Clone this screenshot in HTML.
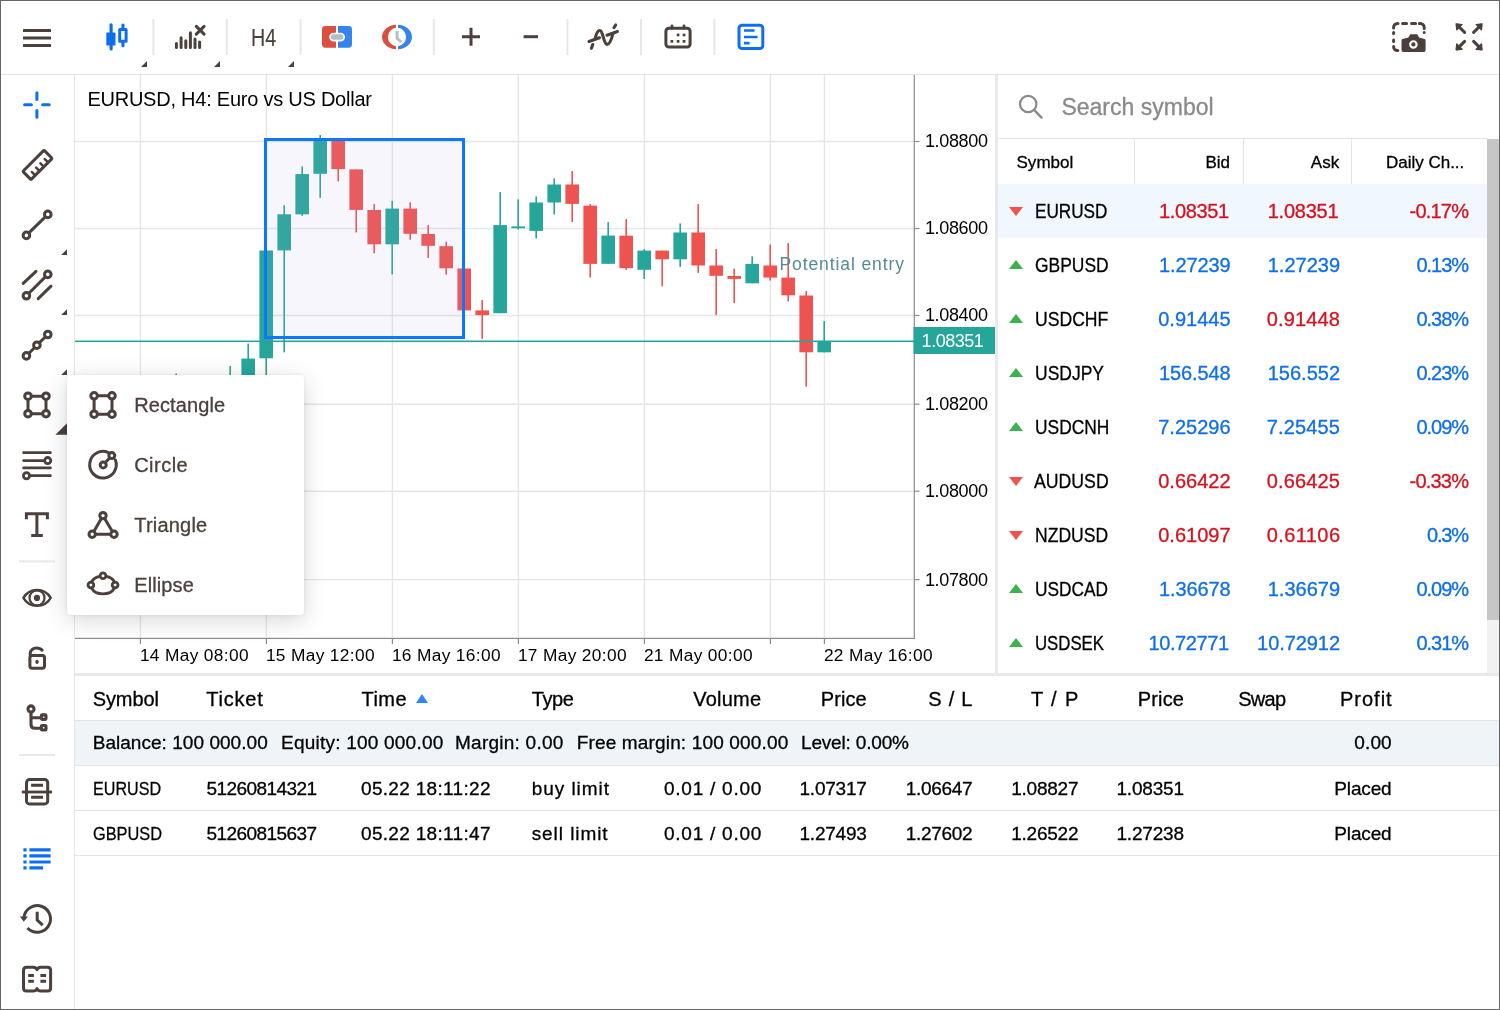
<!DOCTYPE html>
<html lang="en">
<head>
<meta charset="utf-8">
<title>EURUSD, H4 - Web Terminal</title>
<style>
*{box-sizing:border-box;margin:0;padding:0}
html,body{width:1500px;height:1010px;overflow:hidden;background:#fff}
body{position:relative;font-family:"Liberation Sans",sans-serif;color:#000;font-size:19px}
.abs{position:absolute}
.t{position:absolute;white-space:nowrap;line-height:1;-webkit-text-stroke:.3px}
#frame{position:absolute;left:0;top:0;width:1500px;height:1010px;border:1px solid #666;z-index:50;pointer-events:none}
#toolbar{position:absolute;left:0;top:0;width:1500px;height:75px;border-bottom:1px solid #e4e4e4;background:#fff}
#sidebar{position:absolute;left:0;top:75px;width:75px;height:935px;border-right:1px solid #e4e4e4;background:#fff}
svg{position:absolute;overflow:visible}
.ic{fill:none;stroke:#4b403c;stroke-width:3;stroke-linecap:round;stroke-linejoin:round}
.icb{fill:none;stroke:#0d6ef2;stroke-width:3;stroke-linecap:round;stroke-linejoin:round}
#vsplit{position:absolute;left:995px;top:75px;width:3px;height:601px;background:#e9e9e9}
#hsplit{position:absolute;left:75px;top:673px;width:1425px;height:3px;background:#e9e9e9}
#popup{position:absolute;left:67px;top:375px;width:237px;height:240px;background:#fff;border-radius:4px;box-shadow:0 5px 22px rgba(0,0,0,.17),0 0 4px rgba(0,0,0,.06);z-index:20}
#popup .t{color:#4b403c}
/* market watch */
#mw{position:absolute;left:998px;top:75px;width:502px;height:598px;background:#fff;overflow:hidden}
#mw .hd{position:absolute;top:63px;left:0;width:489px;height:46px;border-top:1px solid #e4e4e4;font-size:17px}
#mw .hd i{position:absolute;top:0;width:1px;height:46px;background:#e4e4e4}
.row{position:absolute;left:0;width:489px;height:54px;font-size:20px}
.row.sel{background:#f0f7fe}
.up,.dn{position:absolute;left:11px;width:0;height:0;border-style:solid}
.up{top:22px;border-width:0 7px 9px 7px;border-color:transparent transparent #3bb24e transparent}
.dn{top:23px;border-width:9px 7px 0 7px;border-color:#ef5350 transparent transparent transparent}
#sbar{position:absolute;left:489px;top:64px;width:13px;height:534px;background:#f1f1f1}
#sbar b{position:absolute;left:0;top:0;width:13px;height:481px;background:#c6c6c6}
/* bottom table */
#bt{position:absolute;left:75px;top:676px;width:1425px;height:334px;background:#fff}
#bt .ln{position:absolute;left:0;width:1425px;height:1px;background:#e4e4e4}
#bt .bal{position:absolute;left:0;top:45px;width:1425px;height:44px;background:#eff4f9}
</style>
</head>
<body>
<div id="toolbar">
<div class="t" id="tf" style="left:250.500px;top:27.400px;font-size:23.300px;color:#4b403c;transform-origin:0 0;transform:scaleX(.845);-webkit-text-stroke:.1px">H4</div>
<svg style="left:0;top:0" width="1500" height="75" viewBox="0 0 1500 75">
<rect x="152.4" y="19" width="2" height="36" fill="#e7e7e7"/><rect x="225.8" y="19" width="2" height="36" fill="#e7e7e7"/><rect x="299.6" y="19" width="2" height="36" fill="#e7e7e7"/><rect x="432.8" y="19" width="2" height="36" fill="#e7e7e7"/><rect x="566.4" y="19" width="2" height="36" fill="#e7e7e7"/><rect x="640.0" y="19" width="2" height="36" fill="#e7e7e7"/><rect x="713.4" y="19" width="2" height="36" fill="#e7e7e7"/>
<!-- menu -->
<g fill="#4b403c"><rect x="23" y="29" width="28" height="3" rx=".5"/><rect x="23" y="36.5" width="28" height="3" rx=".5"/><rect x="23" y="44" width="28" height="3" rx=".5"/></g>
<!-- corner marks -->
<g fill="#4b403c"><path d="M147 61v6h-6z"/><path d="M220 61v6h-6z"/><path d="M294 61v6h-6z"/></g>
<!-- candles (active) -->
<g fill="#0d6ef2"><rect x="109.500" y="23.300" width="3.200" height="27.100" rx="1.500"/><rect x="106.300" y="32.400" width="9.200" height="13.200" rx=".700"/>
<rect x="121.400" y="23.500" width="3.100" height="5.500" rx="1.500"/><rect x="121.400" y="41.500" width="3.100" height="5.700" rx="1.500"/></g>
<rect x="119.700" y="29.400" width="6.400" height="11.800" fill="none" stroke="#0d6ef2" stroke-width="3" stroke-linejoin="round"/>
<!-- indicators off -->
<g stroke="#4b403c" stroke-width="3" stroke-linecap="round" fill="none">
<path d="M176.400 43.500V47.400M181.100 37.700V47.400M185.800 40.800V47.400M190.400 32.700V47.400M195 38.900V47.400M199.600 42V47.400"/>
<path d="M196.3 26.4L204.1 34.1M204.1 26.4L196.3 34.1" stroke-width="3"/></g>
<!-- one click trading -->
<path d="M325.4 26.1H336V47.7H325.4a3.4 3.4 0 0 1-3.4-3.4V29.5a3.4 3.4 0 0 1 3.4-3.4z" fill="#d9503f"/>
<path d="M338 26.1H348.6a3.4 3.4 0 0 1 3.4 3.4V44.3a3.4 3.4 0 0 1-3.4 3.4H338z" fill="#3584ec"/>
<rect x="330" y="33.5" width="14.2" height="7.2" rx="3.6" fill="#b0bec5" stroke="#fff" stroke-width="1.7"/>
<!-- clock -->
<clipPath id="cl"><rect x="380" y="20" width="16.1" height="34"/></clipPath><clipPath id="cr"><rect x="398" y="20" width="16" height="34"/></clipPath>
<path clip-path="url(#cl)" fill-rule="evenodd" d="M382 37a15 12.2 0 1 0 30 0a15 12.2 0 1 0 -30 0zM387.900 37a9.100 9.200 0 1 0 18.200 0a9.100 9.200 0 1 0 -18.200 0z" fill="#d9503f"/>
<path clip-path="url(#cr)" fill-rule="evenodd" d="M382 37a15 12.2 0 1 0 30 0a15 12.2 0 1 0 -30 0zM387.900 37a9.100 9.200 0 1 0 18.200 0a9.100 9.200 0 1 0 -18.200 0z" fill="#3584ec"/>
<path d="M397.100 31.100V38.300L401.200 42" fill="none" stroke="#b0bec5" stroke-width="2.900"/>
<!-- zoom -->
<g stroke="#4b403c" stroke-width="3" fill="none"><path d="M462 36.8H480M471 27.8V45.8"/><path d="M523.6 36.7H538"/></g>
<!-- indicator -->
<g class="ic" style="stroke-width:3.1">
<path d="M589 41.500L599.500 37.800M607 35.200L617.400 31.500"/>
<path d="M595.200 38.300C596.400 33.200 598 30.300 599.900 30.500C603.200 30.900 603.400 43.900 607 44.400C609.400 44.700 611.400 39.600 612.900 33.900"/>
<path d="M591.400 48.300L592.800 44.500M614 27.600L615.700 25"/>
</g>
<!-- calendar -->
<g class="ic"><rect x="665.9" y="28.3" width="24.2" height="18.8" rx="3"/><path d="M672 25.8V28M684 25.8V28" stroke-width="2.8"/></g>
<g fill="#4b403c"><rect x="676.7" y="33.6" width="2.7" height="2.7"/><rect x="682.7" y="33.6" width="2.7" height="2.7"/><rect x="670.5" y="40" width="2.7" height="2.7"/><rect x="676.7" y="40" width="2.7" height="2.7"/><rect x="682.7" y="40" width="2.7" height="2.7"/></g>
<!-- toolbox (active) -->
<g class="icb"><rect x="739" y="25.2" width="23.8" height="23.4" rx="3"/><path d="M744 30.5H754.6M744 37H757.6M744 43.2H749.6" style="stroke-width:2.7;stroke-linecap:butt"/></g>
<!-- screenshot -->
<g class="ic"><path d="M1393.6 28V27.4a4 4 0 0 1 4-4H1398M1402.6 23.4H1406.6M1411.6 23.4H1415.6M1419.4 23.4H1420.2a4 4 0 0 1 4 4V28.4M1424.2 32.4V32.6M1393.6 32.4V33.6M1393.6 40V41.6M1393.6 46.4V46.6a4 4 0 0 0 4 4H1397.8"/></g>
<path d="M1410.4 34.2h6.8l1.9 3.4 4.6 1.2a1.9 1.9 0 0 1 1.9 1.9V50a1.9 1.9 0 0 1-1.9 1.9H1403.4a1.9 1.9 0 0 1-1.9-1.9V40.7a1.9 1.9 0 0 1 1.9-1.9l4.9-1.2z" fill="#4b403c"/>
<circle cx="1413.4" cy="44.4" r="3.2" fill="#4b403c" stroke="#fff" stroke-width="2.1"/>
<!-- fullscreen -->
<g class="ic" stroke-width="2.8"><path d="M1464.6 32.4L1457.4 25.2M1473.6 32.4L1480.8 25.2M1464.6 41.4L1457.4 48.6M1473.6 41.4L1480.8 48.6"/></g>
<g fill="#4b403c" stroke="#4b403c" stroke-width="1.4" stroke-linejoin="round"><path d="M1456.2 24L1462 24.6L1456.8 29.8z"/><path d="M1482 24L1476.2 24.6L1481.4 29.8z"/><path d="M1456.2 49.8L1462 49.2L1456.8 44z"/><path d="M1482 49.8L1476.2 49.2L1481.4 44z"/></g>
</svg>

</div>
<div id="sidebar">
<svg style="left:0;top:0" width="75" height="935" viewBox="0 75 75 935">
<rect x="19" y="560.4" width="36" height="2" fill="#e8e8e8"/><rect x="19" y="753.9" width="36" height="2" fill="#e8e8e8"/>
<!-- crosshair (active) -->
<path class="icb" d="M24.6 104.8H31.4M42.6 104.8H49.2M36.9 92.8V99.4M36.9 110.6V117.2"/>
<!-- ruler -->
<g class="ic" transform="rotate(-45 37.500 164.900)"><rect x="22.500" y="159.100" width="30" height="11.600" rx="1"/><path d="M28.500 170.200V165.900M34.600 170.200V165.900M40.700 170.200V165.900M46.800 170.200V165.900" style="stroke-width:2.500"/></g>
<!-- trend line -->
<g class="ic"><circle cx="26.4" cy="235.4" r="3.3"/><circle cx="47.8" cy="214.4" r="3.3"/><path d="M29.4 232.4L44.8 217.4"/></g>
<!-- channel -->
<g class="ic"><circle cx="26.4" cy="295.8" r="3.3"/><circle cx="47.8" cy="274.4" r="3.3"/><path d="M29.4 292.8L44.8 277.4M23.2 283.4L36 271.4M38.2 298.6L51 286.2"/></g>
<!-- polyline -->
<g class="ic"><circle cx="26.4" cy="355.9" r="3.3"/><circle cx="36.9" cy="345.2" r="3.3"/><circle cx="47.8" cy="334.5" r="3.3"/><path d="M29.2 353L34.2 348M39.7 342.4L45 337.2"/></g>
<!-- shapes (open) -->
<g class="ic"><circle cx="28" cy="396.2" r="3.3"/><circle cx="46" cy="396.2" r="3.3"/><circle cx="28" cy="413.7" r="3.3"/><circle cx="46" cy="413.7" r="3.3"/><path d="M31.6 396.2H42.4M31.6 413.7H42.4M28 399.8V410.1M46 399.8V410.1"/></g>
<!-- fibonacci -->
<g class="ic" style="stroke-width:2.8"><path d="M23.6 452.7H50.4M23.6 460.6H43.6M23.6 467.9H50.4M30.8 475.7H50.4"/><circle cx="47.7" cy="460.6" r="3.1"/><circle cx="26.5" cy="475.7" r="3.1"/></g>
<!-- text -->
<path class="ic" style="stroke-linecap:butt;stroke-linejoin:miter" d="M26.400 519.200V513.800H47.400V519.200M36.900 513.800V535.400M31.200 535.600H42.800"/>
<!-- eye -->
<g class="ic" style="stroke-width:2.400"><path d="M23.400 597.900A15.700 15.700 0 0 1 50.700 597.900A15.700 15.700 0 0 1 23.400 597.900z"/><circle cx="37" cy="597.900" r="7.500" style="stroke-width:2.200"/></g>
<circle cx="37" cy="597.900" r="3.100" fill="#4b403c"/>
<!-- lock -->
<g class="ic"><rect x="29.9" y="655.6" width="14.6" height="12.6" rx="2.2"/><path d="M30.2 655V653.4C30.2 650.6 33 647.9 36.4 647.9C38.8 647.9 40.8 648.6 42.2 650.2"/></g>
<rect x="35.400" y="659.700" width="3.200" height="4.200" rx="1.600" fill="#4b403c"/>
<!-- objects tree -->
<g class="ic" style="stroke-width:3.100"><circle cx="31" cy="708.900" r="3.050"/><path d="M31 712.400V724.400Q31 728.300 34.900 728.300H40M31 717.700H40"/><rect x="41.400" y="714.900" width="4.600" height="4.500" rx=".800"/><rect x="41.400" y="725.500" width="4.600" height="4.500" rx=".800"/></g>
<!-- depth of market -->
<g class="ic"><rect x="26.500" y="779.600" width="21.200" height="24.300" rx="3"/><path d="M21.800 792H52" style="stroke-linecap:butt;stroke-width:2.800"/><path d="M31.100 785.300H43M31.100 797.300H43" style="stroke-width:3;stroke-linecap:butt"/></g>
<!-- trade (active) -->
<g stroke="#0d6ef2" stroke-width="3.100" fill="none"><path d="M23.400 849.900H26.600M29.400 849.900H50.600M23.400 855.900H26.600M29.400 855.900H50.600M23.400 862H26.600M29.400 862H50.600M23.400 867.900H26.600M29.400 867.900H43"/></g>
<!-- history -->
<g class="ic"><path d="M24.03 917.05A13.3 13.3 0 1 1 27.47 927.97" style="stroke-linecap:butt"/><path d="M37.200 911.800V920L42.700 925.100" style="stroke-linecap:butt;stroke-linejoin:miter"/></g>
<path d="M19.900 916.600H27.900L23.800 921.700z" fill="#4b403c"/>
<!-- journal -->
<g class="ic"><path d="M26.500 967.200H33.600Q35.800 967.200 37 969.600Q38.200 967.200 40.400 967.200H47.600Q50.600 967.200 50.600 970.200V988Q50.600 991 47.600 991H40.400Q38.200 991 37 988.600Q35.800 991 33.600 991H26.500Q23.500 991 23.500 988V970.200Q23.500 967.200 26.500 967.200z"/><path d="M28.200 975.400H33.900M40.400 975.400H46.100M28.200 981.300H33.900M40.400 981.300H46.100" style="stroke-width:3;stroke-linecap:butt"/></g>
<!-- corner marks -->
<g fill="#4b403c"><path d="M67 249.2v5.8h-5.8z"/><path d="M67 309.2v5.8h-5.8z"/><path d="M67 369.2v5.8h-5.8z"/><path d="M67 423.2v11.6h-11.6z"/></g>
</svg>

</div>

<!-- chart -->
<svg id="chart" class="abs" style="left:0;top:0" width="1500" height="1010" viewBox="0 0 1500 1010" font-family="'Liberation Sans',sans-serif" style="-webkit-text-stroke:.3px">
<defs><clipPath id="cc"><rect x="75" y="75" width="839" height="563"/></clipPath></defs>
<g stroke="#e6e6e6" stroke-width="1.4">
<line x1="140.4" y1="75" x2="140.4" y2="638"/>
<line x1="266.4" y1="75" x2="266.4" y2="638"/>
<line x1="392.4" y1="75" x2="392.4" y2="638"/>
<line x1="518.4" y1="75" x2="518.4" y2="638"/>
<line x1="644.4" y1="75" x2="644.4" y2="638"/>
<line x1="770.4" y1="75" x2="770.4" y2="638"/>
<line x1="824.4" y1="75" x2="824.4" y2="638"/>
<line x1="75" y1="141.5" x2="914" y2="141.5"/>
<line x1="75" y1="228.5" x2="914" y2="228.5"/>
<line x1="75" y1="315.5" x2="914" y2="315.5"/>
<line x1="75" y1="404.2" x2="914" y2="404.2"/>
<line x1="75" y1="491.2" x2="914" y2="491.2"/>
<line x1="75" y1="579.6" x2="914" y2="579.6"/>
</g>
<g clip-path="url(#cc)">
<rect x="175.40" y="373.5" width="1.6" height="26.5" fill="#26a69a"/>
<rect x="169.40" y="380.0" width="13.6" height="15.0" fill="#26a69a"/>
<rect x="229.40" y="366.0" width="1.6" height="34.0" fill="#26a69a"/>
<rect x="223.40" y="378.0" width="13.6" height="17.0" fill="#26a69a"/>
<rect x="247.40" y="343.6" width="1.6" height="51.4" fill="#26a69a"/>
<rect x="241.40" y="358.6" width="13.6" height="31.4" fill="#26a69a"/>
<rect x="265.40" y="250.5" width="1.6" height="149.5" fill="#26a69a"/>
<rect x="259.40" y="250.5" width="13.6" height="107.8" fill="#26a69a"/>
<rect x="283.40" y="205.2" width="1.6" height="147.1" fill="#26a69a"/>
<rect x="277.40" y="214.3" width="13.6" height="36.1" fill="#26a69a"/>
<rect x="301.40" y="166.4" width="1.6" height="49.5" fill="#26a69a"/>
<rect x="295.40" y="174.1" width="13.6" height="40.2" fill="#26a69a"/>
<rect x="319.40" y="135.0" width="1.6" height="62.9" fill="#26a69a"/>
<rect x="313.40" y="140.0" width="13.6" height="33.8" fill="#26a69a"/>
<rect x="337.40" y="141.0" width="1.6" height="40.4" fill="#ef5350"/>
<rect x="331.40" y="141.0" width="13.6" height="28.1" fill="#ef5350"/>
<rect x="355.40" y="169.4" width="1.6" height="63.0" fill="#ef5350"/>
<rect x="349.40" y="169.4" width="13.6" height="40.5" fill="#ef5350"/>
<rect x="373.40" y="204.1" width="1.6" height="49.2" fill="#ef5350"/>
<rect x="367.40" y="210.0" width="13.6" height="34.3" fill="#ef5350"/>
<rect x="391.40" y="200.9" width="1.6" height="73.5" fill="#26a69a"/>
<rect x="385.40" y="208.6" width="13.6" height="35.7" fill="#26a69a"/>
<rect x="409.40" y="202.3" width="1.6" height="37.4" fill="#ef5350"/>
<rect x="403.40" y="208.6" width="13.6" height="25.2" fill="#ef5350"/>
<rect x="427.40" y="225.1" width="1.6" height="32.9" fill="#ef5350"/>
<rect x="421.40" y="234.0" width="13.6" height="11.8" fill="#ef5350"/>
<rect x="445.40" y="241.6" width="1.6" height="33.0" fill="#ef5350"/>
<rect x="439.40" y="246.2" width="13.6" height="22.1" fill="#ef5350"/>
<rect x="457.40" y="268.5" width="13.6" height="41.9" fill="#ef5350"/>
<rect x="481.40" y="300.1" width="1.6" height="38.8" fill="#ef5350"/>
<rect x="475.40" y="310.4" width="13.6" height="4.7" fill="#ef5350"/>
<rect x="499.40" y="192.1" width="1.6" height="121.1" fill="#26a69a"/>
<rect x="493.40" y="225.1" width="13.6" height="88.1" fill="#26a69a"/>
<rect x="517.40" y="199.4" width="1.6" height="30.1" fill="#26a69a"/>
<rect x="511.40" y="226.4" width="13.6" height="1.8" fill="#26a69a"/>
<rect x="535.40" y="196.4" width="1.6" height="42.2" fill="#26a69a"/>
<rect x="529.40" y="202.5" width="13.6" height="28.4" fill="#26a69a"/>
<rect x="553.40" y="178.3" width="1.6" height="36.2" fill="#26a69a"/>
<rect x="547.40" y="184.5" width="13.6" height="18.0" fill="#26a69a"/>
<rect x="571.40" y="171.1" width="1.6" height="50.8" fill="#ef5350"/>
<rect x="565.40" y="184.5" width="13.6" height="19.4" fill="#ef5350"/>
<rect x="589.40" y="204.1" width="1.6" height="73.4" fill="#ef5350"/>
<rect x="583.40" y="205.7" width="13.6" height="58.2" fill="#ef5350"/>
<rect x="607.40" y="222.1" width="1.6" height="41.7" fill="#26a69a"/>
<rect x="601.40" y="235.6" width="13.6" height="28.2" fill="#26a69a"/>
<rect x="625.40" y="219.1" width="1.6" height="50.7" fill="#ef5350"/>
<rect x="619.40" y="235.7" width="13.6" height="32.5" fill="#ef5350"/>
<rect x="643.40" y="249.1" width="1.6" height="29.8" fill="#26a69a"/>
<rect x="637.40" y="250.6" width="13.6" height="19.2" fill="#26a69a"/>
<rect x="661.40" y="250.6" width="1.6" height="35.7" fill="#ef5350"/>
<rect x="655.40" y="250.6" width="13.6" height="8.7" fill="#ef5350"/>
<rect x="679.40" y="223.4" width="1.6" height="43.5" fill="#26a69a"/>
<rect x="673.40" y="232.5" width="13.6" height="26.8" fill="#26a69a"/>
<rect x="697.40" y="204.0" width="1.6" height="68.9" fill="#ef5350"/>
<rect x="691.40" y="232.5" width="13.6" height="33.0" fill="#ef5350"/>
<rect x="715.40" y="249.1" width="1.6" height="65.9" fill="#ef5350"/>
<rect x="709.40" y="265.5" width="13.6" height="10.3" fill="#ef5350"/>
<rect x="733.40" y="268.6" width="1.6" height="34.4" fill="#ef5350"/>
<rect x="727.40" y="276.0" width="13.6" height="2.9" fill="#ef5350"/>
<rect x="751.40" y="256.4" width="1.6" height="26.9" fill="#26a69a"/>
<rect x="745.40" y="263.9" width="13.6" height="19.4" fill="#26a69a"/>
<rect x="769.40" y="244.5" width="1.6" height="36.1" fill="#ef5350"/>
<rect x="763.40" y="265.5" width="13.6" height="12.1" fill="#ef5350"/>
<rect x="787.40" y="243.1" width="1.6" height="58.3" fill="#ef5350"/>
<rect x="781.40" y="277.6" width="13.6" height="17.7" fill="#ef5350"/>
<rect x="805.40" y="291.0" width="1.6" height="95.7" fill="#ef5350"/>
<rect x="799.40" y="295.5" width="13.6" height="56.8" fill="#ef5350"/>
<rect x="823.40" y="321.0" width="1.6" height="31.3" fill="#26a69a"/>
<rect x="817.40" y="341.0" width="13.6" height="11.3" fill="#26a69a"/>
<rect x="75" y="340.5" width="839" height="1.6" fill="#26a69a"/>
<rect x="265.5" y="139.5" width="198" height="198" fill="rgba(180,170,225,0.10)" stroke="#0a78ff" stroke-width="3"/>
</g>
<rect x="913.7" y="75" width="1.2" height="564" fill="#8c8c8c"/>
<rect x="75" y="637.8" width="840" height="1.2" fill="#8c8c8c"/>
<rect x="139.8" y="638" width="1.2" height="6" fill="#8c8c8c"/>
<rect x="265.79999999999995" y="638" width="1.2" height="6" fill="#8c8c8c"/>
<rect x="391.79999999999995" y="638" width="1.2" height="6" fill="#8c8c8c"/>
<rect x="517.8" y="638" width="1.2" height="6" fill="#8c8c8c"/>
<rect x="643.8" y="638" width="1.2" height="6" fill="#8c8c8c"/>
<rect x="769.8" y="638" width="1.2" height="6" fill="#8c8c8c"/>
<rect x="823.8" y="638" width="1.2" height="6" fill="#8c8c8c"/>
<rect x="914" y="140.9" width="5.5" height="1.2" fill="#8c8c8c"/>
<rect x="914" y="227.9" width="5.5" height="1.2" fill="#8c8c8c"/>
<rect x="914" y="314.9" width="5.5" height="1.2" fill="#8c8c8c"/>
<rect x="914" y="403.59999999999997" width="5.5" height="1.2" fill="#8c8c8c"/>
<rect x="914" y="490.59999999999997" width="5.5" height="1.2" fill="#8c8c8c"/>
<rect x="914" y="579.0" width="5.5" height="1.2" fill="#8c8c8c"/>
<text x="924.90" y="147.40" font-size="18" letter-spacing="-0.333" fill="#000" text-anchor="start">1.08800</text>
<text x="924.90" y="234.40" font-size="18" letter-spacing="-0.333" fill="#000" text-anchor="start">1.08600</text>
<text x="924.90" y="321.40" font-size="18" letter-spacing="-0.333" fill="#000" text-anchor="start">1.08400</text>
<text x="924.90" y="410.10" font-size="18" letter-spacing="-0.333" fill="#000" text-anchor="start">1.08200</text>
<text x="924.90" y="497.10" font-size="18" letter-spacing="-0.333" fill="#000" text-anchor="start">1.08000</text>
<text x="924.90" y="585.50" font-size="18" letter-spacing="-0.333" fill="#000" text-anchor="start">1.07800</text>
<text x="139.90" y="661.30" font-size="17.3" letter-spacing="0.355" fill="#000" text-anchor="start">14 May 08:00</text>
<text x="265.90" y="661.30" font-size="17.3" letter-spacing="0.355" fill="#000" text-anchor="start">15 May 12:00</text>
<text x="391.90" y="661.30" font-size="17.3" letter-spacing="0.355" fill="#000" text-anchor="start">16 May 16:00</text>
<text x="517.90" y="661.30" font-size="17.3" letter-spacing="0.355" fill="#000" text-anchor="start">17 May 20:00</text>
<text x="643.90" y="661.30" font-size="17.3" letter-spacing="0.355" fill="#000" text-anchor="start">21 May 00:00</text>
<text x="823.90" y="661.30" font-size="17.3" letter-spacing="0.355" fill="#000" text-anchor="start">22 May 16:00</text>
<rect x="913.5" y="327" width="81.7" height="27" fill="#26a69a"/>
<text x="921.60" y="347.10" font-size="18" letter-spacing="-0.467" fill="#fff" text-anchor="start">1.08351</text>
<text x="87.40" y="106.00" font-size="20" letter-spacing="-0.236" fill="#000" text-anchor="start">EURUSD, H4: Euro vs US Dollar</text>
<text x="779.50" y="269.70" font-size="17.5" letter-spacing="0.900" fill="#558b96" text-anchor="start">Potential entry</text>
</svg>

<div id="vsplit"></div>
<div id="hsplit"></div>

<div id="mw">
<svg style="left:20px;top:18px" width="28" height="28" viewBox="0 0 28 28"><circle cx="10.2" cy="11" r="8.2" fill="none" stroke="#8a8a8a" stroke-width="2.2"/><path d="M16.3 17.2 L23.5 24.6" stroke="#8a8a8a" stroke-width="2.4" stroke-linecap="round"/></svg>
<div class="t" style="top:20.53px;font-size:23px;color:#8a8a8a;letter-spacing:0.017px;left:63.40px;">Search symbol</div>
<div class="hd"><i style="left:136px"></i><i style="left:245px"></i><i style="left:353px"></i></div>
<div class="t" style="top:78.61px;font-size:17px;letter-spacing:0.020px;left:18.50px;">Symbol</div>
<div class="t" style="top:78.61px;font-size:17px;right:270.03px;">Bid</div>
<div class="t" style="top:78.61px;font-size:17px;right:160.86px;">Ask</div>
<div class="t" style="top:78.61px;font-size:17px;letter-spacing:-0.010px;left:388.00px;">Daily Ch...</div>
<div class="row sel" style="top:109px"><span class="dn"></span></div>
<div class="t" style="top:126.27px;font-size:20px;left:36.90px;transform-origin:0 0;transform:scaleX(0.8580);">EURUSD</div>
<div class="t" style="top:126.27px;font-size:20px;color:#d9101c;letter-spacing:-0.400px;right:271.40px;">1.08351</div>
<div class="t" style="top:126.27px;font-size:20px;color:#d9101c;letter-spacing:-0.250px;right:161.75px;">1.08351</div>
<div class="t" style="top:126.27px;font-size:20px;color:#d9101c;letter-spacing:-0.780px;right:31.81px;">-0.17%</div>
<div class="row" style="top:163px"><span class="up"></span></div>
<div class="t" style="top:180.27px;font-size:20px;left:36.50px;transform-origin:0 0;transform:scaleX(0.8722);">GBPUSD</div>
<div class="t" style="top:180.27px;font-size:20px;color:#0e6fe9;letter-spacing:-0.150px;right:269.65px;">1.27239</div>
<div class="t" style="top:180.27px;font-size:20px;color:#0e6fe9;right:160.00px;">1.27239</div>
<div class="t" style="top:180.27px;font-size:20px;color:#0e6fe9;letter-spacing:-1.050px;right:32.04px;">0.13%</div>
<div class="row" style="top:217px"><span class="up"></span></div>
<div class="t" style="top:234.27px;font-size:20px;left:36.90px;transform-origin:0 0;transform:scaleX(0.8800);">USDCHF</div>
<div class="t" style="top:234.27px;font-size:20px;color:#0e6fe9;right:269.50px;">0.91445</div>
<div class="t" style="top:234.27px;font-size:20px;color:#d9101c;letter-spacing:0.150px;right:159.85px;">0.91448</div>
<div class="t" style="top:234.27px;font-size:20px;color:#0e6fe9;letter-spacing:-1.050px;right:32.04px;">0.38%</div>
<div class="row" style="top:271px"><span class="up"></span></div>
<div class="t" style="top:288.27px;font-size:20px;left:36.90px;transform-origin:0 0;transform:scaleX(0.8745);">USDJPY</div>
<div class="t" style="top:288.27px;font-size:20px;color:#0e6fe9;letter-spacing:-0.150px;right:269.65px;">156.548</div>
<div class="t" style="top:288.27px;font-size:20px;color:#0e6fe9;right:160.00px;">156.552</div>
<div class="t" style="top:288.27px;font-size:20px;color:#0e6fe9;letter-spacing:-1.050px;right:32.04px;">0.23%</div>
<div class="row" style="top:325px"><span class="up"></span></div>
<div class="t" style="top:342.27px;font-size:20px;left:36.90px;transform-origin:0 0;transform:scaleX(0.8692);">USDCNH</div>
<div class="t" style="top:342.27px;font-size:20px;color:#0e6fe9;right:269.50px;">7.25296</div>
<div class="t" style="top:342.27px;font-size:20px;color:#0e6fe9;letter-spacing:0.150px;right:159.85px;">7.25455</div>
<div class="t" style="top:342.27px;font-size:20px;color:#0e6fe9;letter-spacing:-1.050px;right:32.04px;">0.09%</div>
<div class="row" style="top:379px"><span class="dn"></span></div>
<div class="t" style="top:396.27px;font-size:20px;left:36.30px;transform-origin:0 0;transform:scaleX(0.8840);">AUDUSD</div>
<div class="t" style="top:396.27px;font-size:20px;color:#d9101c;right:269.50px;">0.66422</div>
<div class="t" style="top:396.27px;font-size:20px;color:#d9101c;letter-spacing:0.150px;right:159.85px;">0.66425</div>
<div class="t" style="top:396.27px;font-size:20px;color:#d9101c;letter-spacing:-0.780px;right:31.81px;">-0.33%</div>
<div class="row" style="top:433px"><span class="dn"></span></div>
<div class="t" style="top:450.27px;font-size:20px;left:36.90px;transform-origin:0 0;transform:scaleX(0.8776);">NZDUSD</div>
<div class="t" style="top:450.27px;font-size:20px;color:#d9101c;right:269.50px;">0.61097</div>
<div class="t" style="top:450.27px;font-size:20px;color:#d9101c;letter-spacing:0.400px;right:159.59px;">0.61106</div>
<div class="t" style="top:450.27px;font-size:20px;color:#0e6fe9;letter-spacing:-1.200px;right:32.21px;">0.3%</div>
<div class="row" style="top:487px"><span class="up"></span></div>
<div class="t" style="top:504.27px;font-size:20px;left:36.90px;transform-origin:0 0;transform:scaleX(0.8651);">USDCAD</div>
<div class="t" style="top:504.27px;font-size:20px;color:#0e6fe9;letter-spacing:-0.150px;right:269.65px;">1.36678</div>
<div class="t" style="top:504.27px;font-size:20px;color:#0e6fe9;right:160.00px;">1.36679</div>
<div class="t" style="top:504.27px;font-size:20px;color:#0e6fe9;letter-spacing:-1.050px;right:32.04px;">0.09%</div>
<div class="row" style="top:541px"><span class="up"></span></div>
<div class="t" style="top:558.27px;font-size:20px;left:36.90px;transform-origin:0 0;transform:scaleX(0.8384);">USDSEK</div>
<div class="t" style="top:558.27px;font-size:20px;color:#0e6fe9;letter-spacing:-0.414px;right:271.39px;">10.72771</div>
<div class="t" style="top:558.27px;font-size:20px;color:#0e6fe9;letter-spacing:-0.071px;right:160.05px;">10.72912</div>
<div class="t" style="top:558.27px;font-size:20px;color:#0e6fe9;letter-spacing:-1.050px;right:32.04px;">0.31%</div>
<div id="sbar"><b></b></div>
</div>

<div id="bt">
<div class="bal"></div>
<div class="ln" style="top:44.0px"></div>
<div class="ln" style="top:89.0px"></div>
<div class="ln" style="top:134.0px"></div>
<div class="ln" style="top:179.0px"></div>
<div class="t" style="top:12.77px;font-size:20px;letter-spacing:-0.080px;left:17.70px;">Symbol</div>
<div class="t" style="top:12.77px;font-size:20px;letter-spacing:0.780px;left:131.30px;">Ticket</div>
<div class="t" style="top:12.77px;font-size:20px;letter-spacing:0.433px;left:286.50px;">Time</div>
<span class="abs" style="left:340.7px;top:17.6px;width:0;height:0;border-style:solid;border-width:0 6.5px 9px 6.5px;border-color:transparent transparent #2f86f6 transparent"></span>
<div class="t" style="top:12.77px;font-size:20px;letter-spacing:-0.367px;left:456.70px;">Type</div>
<div class="t" style="top:12.77px;font-size:20px;letter-spacing:0.200px;right:738.79px;">Volume</div>
<div class="t" style="top:12.77px;font-size:20px;letter-spacing:0.100px;right:633.23px;">Price</div>
<div class="t" style="top:12.77px;font-size:20px;letter-spacing:0.725px;right:526.94px;">S / L</div>
<div class="t" style="top:12.77px;font-size:20px;letter-spacing:1.350px;right:420.38px;">T / P</div>
<div class="t" style="top:12.77px;font-size:20px;letter-spacing:0.175px;right:315.86px;">Price</div>
<div class="t" style="top:12.77px;font-size:20px;letter-spacing:-0.767px;right:214.74px;">Swap</div>
<div class="t" style="top:12.77px;font-size:20px;letter-spacing:1.000px;right:107.32px;">Profit</div>
<div class="t" style="top:57.32px;font-size:19px;letter-spacing:0.039px;left:17.70px;">Balance: 100 000.00</div>
<div class="t" style="top:57.32px;font-size:19px;letter-spacing:0.224px;left:206.00px;">Equity: 100 000.00</div>
<div class="t" style="top:57.32px;font-size:19px;letter-spacing:0.245px;left:380.00px;">Margin: 0.00</div>
<div class="t" style="top:57.32px;font-size:19px;letter-spacing:0.159px;left:501.70px;">Free margin: 100 000.00</div>
<div class="t" style="top:57.32px;font-size:19px;letter-spacing:-0.173px;left:726.00px;">Level: 0.00%</div>
<div class="t" style="top:57.32px;font-size:19px;letter-spacing:0.133px;right:108.19px;">0.00</div>
<div class="t" style="top:102.92px;font-size:19px;left:17.70px;transform-origin:0 0;transform:scaleX(0.8479);">EURUSD</div>
<div class="t" style="top:102.92px;font-size:19px;letter-spacing:-0.560px;left:131.50px;">51260814321</div>
<div class="t" style="top:102.92px;font-size:19px;letter-spacing:0.315px;left:286.00px;">05.22 18:11:22</div>
<div class="t" style="top:102.92px;font-size:19px;letter-spacing:0.950px;left:456.70px;">buy limit</div>
<div class="t" style="top:102.92px;font-size:19px;letter-spacing:0.750px;right:737.96px;">0.01 / 0.00</div>
<div class="t" style="top:102.92px;font-size:19px;letter-spacing:-0.217px;right:633.34px;">1.07317</div>
<div class="t" style="top:102.92px;font-size:19px;letter-spacing:-0.317px;right:527.84px;">1.06647</div>
<div class="t" style="top:102.92px;font-size:19px;letter-spacing:-0.233px;right:421.75px;">1.08827</div>
<div class="t" style="top:102.92px;font-size:19px;letter-spacing:-0.200px;right:316.22px;">1.08351</div>
<div class="t" style="top:102.92px;font-size:19px;letter-spacing:-0.140px;right:108.44px;">Placed</div>
<div class="t" style="top:147.92px;font-size:19px;left:17.70px;transform-origin:0 0;transform:scaleX(0.8603);">GBPUSD</div>
<div class="t" style="top:147.92px;font-size:19px;letter-spacing:-0.560px;left:131.50px;">51260815637</div>
<div class="t" style="top:147.92px;font-size:19px;letter-spacing:0.315px;left:286.00px;">05.22 18:11:47</div>
<div class="t" style="top:147.92px;font-size:19px;letter-spacing:0.933px;left:456.70px;">sell limit</div>
<div class="t" style="top:147.92px;font-size:19px;letter-spacing:0.750px;right:737.96px;">0.01 / 0.00</div>
<div class="t" style="top:147.92px;font-size:19px;letter-spacing:-0.217px;right:633.34px;">1.27493</div>
<div class="t" style="top:147.92px;font-size:19px;letter-spacing:-0.317px;right:527.84px;">1.27602</div>
<div class="t" style="top:147.92px;font-size:19px;letter-spacing:-0.233px;right:421.75px;">1.26522</div>
<div class="t" style="top:147.92px;font-size:19px;letter-spacing:-0.200px;right:316.22px;">1.27238</div>
<div class="t" style="top:147.92px;font-size:19px;letter-spacing:-0.140px;right:108.44px;">Placed</div>
</div>

<div id="popup">
<div class="t" style="top:19.67px;font-size:20px;letter-spacing:0.113px;left:67.20px;">Rectangle</div>
<div class="t" style="top:79.67px;font-size:20px;letter-spacing:0.480px;left:67.20px;">Circle</div>
<div class="t" style="top:139.67px;font-size:20px;letter-spacing:0.214px;left:67.20px;">Triangle</div>
<div class="t" style="top:199.67px;font-size:20px;letter-spacing:0.117px;left:67.20px;">Ellipse</div>
<svg style="left:0;top:0" width="237" height="239" viewBox="67 375 237 239">
<g class="ic"><circle cx="94.1" cy="395.8" r="3.3"/><circle cx="112" cy="395.8" r="3.3"/><circle cx="94.1" cy="414.2" r="3.3"/><circle cx="112" cy="414.2" r="3.3"/><path d="M97.7 395.8H108.4M97.7 414.2H108.4M94.1 399.4V410.6M112 399.4V410.6"/></g>
<g class="ic"><path d="M108.4 452.6A13.3 13.3 0 1 0 115.4 460"/><circle cx="103.2" cy="464.9" r="3"/><circle cx="111.8" cy="455.6" r="3"/><path d="M105.3 462.6L109.6 458"/></g>
<g class="ic"><circle cx="103" cy="515.6" r="3.2"/><circle cx="92.2" cy="534.2" r="3.2"/><circle cx="114" cy="534.2" r="3.2"/><path d="M101.2 518.8L94 531.2M104.8 518.8L112.2 531.2M95.8 534.2H110.4"/></g>
<g class="ic" style="stroke-width:2.800"><path d="M99.900 576.300C95.900 577 92.800 579.200 91.500 582M114.500 582C113.200 579.200 110.100 577 106.100 576.300M91.500 588C93.400 591.500 97.800 593.900 103 593.900S112.600 591.500 114.500 588"/><circle cx="103" cy="575.700" r="2.900"/><circle cx="90.900" cy="585" r="2.900"/><circle cx="115.100" cy="585" r="2.900"/></g>
</svg>

</div>

<div id="frame"></div>
</body>
</html>
